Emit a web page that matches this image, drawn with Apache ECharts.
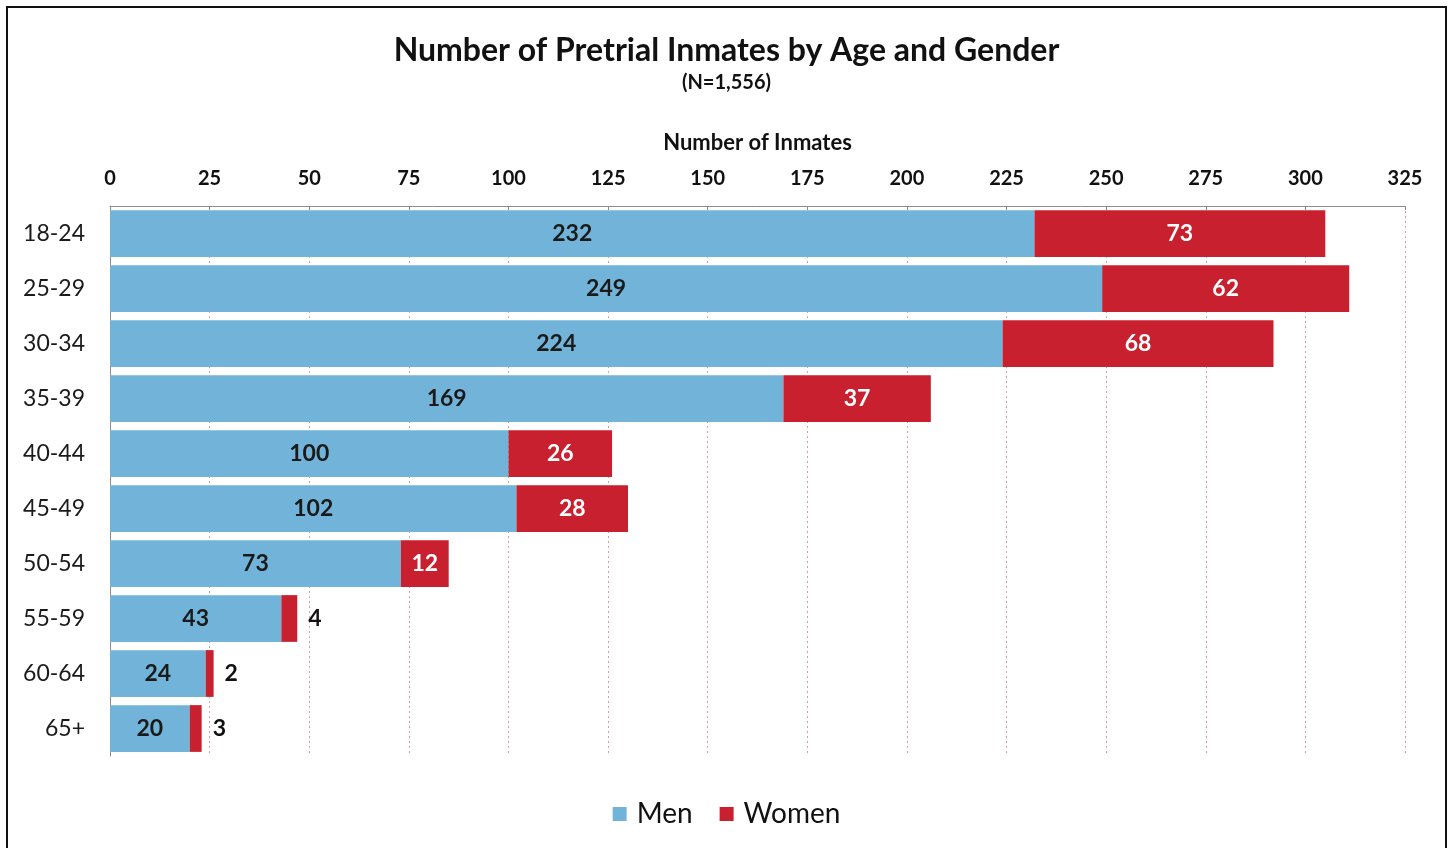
<!DOCTYPE html>
<html>
<head>
<meta charset="utf-8">
<title>Pretrial Inmates by Age and Gender</title>
<script src="https://cdn.jsdelivr.net/npm/echarts@6/dist/echarts.min.js"></script>
<style>
    html, body { margin: 0; padding: 0; background: #fff; }
    #chart { width: 1453px; height: 848px; }
</style>
</head>
<body>
<div id="chart"></div>
<script>
// age groups, top to bottom
var ageGroups = ['18-24', '25-29', '30-34', '35-39', '40-44', '45-49', '50-54', '55-59', '60-64', '65+'];
var menCounts = [232, 249, 224, 169, 100, 102, 73, 43, 24, 20];
var womenCounts = [73, 62, 68, 37, 26, 28, 12, 4, 2, 3];
var xTicks = [0, 325, 25]; // min, max, step

var FONT = 'Lato, "Open Sans", sans-serif';

/* ---------- women labels: small ones sit outside in black ---------- */
var womenData = womenCounts.map(function (v) {
    if (v < 10) {
        return {
            value: v,
            label: { position: 'right', color: '#111', distance: 11 }
        };
    }
    return v;
});

var chart = echarts.init(document.getElementById('chart'));

var option = {
    backgroundColor: '#fff',
    textStyle: { fontFamily: FONT },
    graphic: [{
        type: 'rect',
        shape: { x: 7, y: 7, width: 1439, height: 900 },
        style: { fill: 'none', stroke: '#111', lineWidth: 2 },
        silent: true
    }],
    title: {
        text: 'Number of Pretrial Inmates by Age and Gender',
        subtext: '(N=1,556)',
        left: 'center',
        top: 30,
        itemGap: 6,
        textStyle: { fontFamily: FONT, fontSize: 32, fontWeight: 'bold', color: '#111' },
        subtextStyle: { fontFamily: FONT, fontSize: 20, fontWeight: 'bold', color: '#111' }
    },
    legend: {
        data: ['Men', 'Women'],
        top: 795,
        left: 'center',
        itemWidth: 14,
        itemHeight: 14,
        itemGap: 27,
        icon: 'rect',
        textStyle: { fontFamily: FONT, fontSize: 28, color: '#111', padding: [0, 0, 0, 5] }
    },
    grid: {
        left: 110,
        right: 48,
        top: 206,
        bottom: 92
    },
    xAxis: {
        type: 'value',
        position: 'top',
        min: xTicks[0],
        max: xTicks[1],
        interval: xTicks[2],
        name: 'Number of Inmates',
        nameLocation: 'middle',
        nameGap: 52,
        nameTextStyle: { fontFamily: FONT, fontSize: 22, fontWeight: 'bold', color: '#111' },
        axisLine: { show: true, lineStyle: { color: '#8c8c8c', width: 1 } },
        axisTick: { show: true, inside: true, length: 4, lineStyle: { color: '#8c8c8c' } },
        axisLabel: { fontFamily: FONT, fontSize: 20, fontWeight: 'bold', color: '#111', margin: 17 },
        splitLine: { show: true, lineStyle: { color: '#c9a3a3', type: [2, 3], width: 1 } }
    },
    yAxis: {
        type: 'category',
        inverse: true,
        data: ageGroups,
        axisLine: { show: true, lineStyle: { color: '#8c8c8c' } },
        axisTick: { show: false },
        axisLabel: { fontFamily: FONT, fontSize: 23, color: '#1a1a1a', margin: 25 }
    },
    series: [{
        name: 'Men',
        type: 'bar',
        stack: 'total',
        barCategoryGap: '15%',
        data: menCounts,
        itemStyle: { color: '#72b4d9' },
        label: {
            show: true,
            position: 'inside',
            fontFamily: FONT,
            fontSize: 23,
            fontWeight: 'bold',
            color: '#1a1a1a'
        }
    }, {
        name: 'Women',
        type: 'bar',
        stack: 'total',
        barCategoryGap: '15%',
        data: womenData,
        itemStyle: { color: '#c8202f' },
        label: {
            show: true,
            position: 'inside',
            fontFamily: FONT,
            fontSize: 23,
            fontWeight: 'bold',
            color: '#fff'
        }
    }],
    animation: false
};

chart.setOption(option);
</script>
</body>
</html>
